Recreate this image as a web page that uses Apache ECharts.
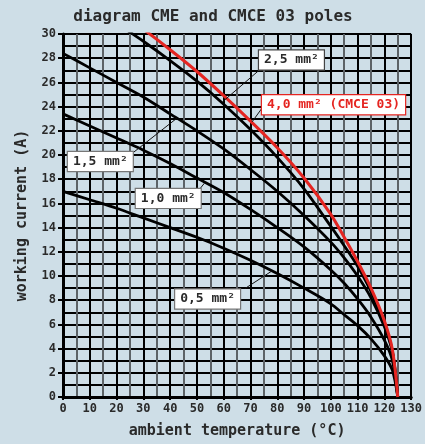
<!DOCTYPE html>
<html><head><meta charset="utf-8">
<script src="https://cdn.jsdelivr.net/npm/echarts@6/dist/echarts.min.js"></script>
<style>html,body{margin:0;padding:0;background:#cedee7;}#c{width:425px;height:444px;}</style>
</head><body><div id="c"></div>
<script>
// ambient temperature (°C) sample points
const temps   = [0, 10, 20, 30, 40, 50, 60, 70, 80, 90, 100, 105, 110, 115, 120, 123, 125];
// working current (A)
const cur05   = [17.0, 16.3, 15.6, 14.8, 14.0, 13.2, 12.3, 11.3, 10.2, 9.0, 7.7, 6.8, 5.9, 4.8, 3.4, 2.2, 0];
const cur10   = [23.4, 22.4, 21.4, 20.4, 19.3, 18.1, 16.9, 15.5, 14.0, 12.4, 10.5, 9.4, 8.1, 6.6, 4.7, 3.0, 0];
const cur15   = [28.4, 27.2, 26.0, 24.8, 23.4, 22.0, 20.5, 18.8, 17.0, 15.0, 12.8, 11.5, 10.0, 8.2, 5.8, 3.7, 0];
const cur25   = [33.8, 32.4, 30.9, 29.4, 27.8, 26.1, 24.2, 22.1, 19.8, 17.2, 14.1, 12.5, 10.8, 8.7, 6.0, 3.8, 0];
const cur40   = [34.9, 33.4, 32.0, 30.4, 28.7, 26.9, 24.9, 22.8, 20.6, 18.1, 15.1, 13.2, 11.2, 9.0, 6.3, 3.9, 0];
const seriesNames = ['0,5 mm²', '1,0 mm²', '1,5 mm²', '2,5 mm²', '4,0 mm² (CMCE 03)'];
const xTickLabels = [0, 10, 20, 30, 40, 50, 60, 70, 80, 90, 100, 110, 120, 130];
const yTickLabels = [0, 2, 4, 6, 8, 10, 12, 14, 16, 18, 20, 22, 24, 26, 28, 30];

const FONT = "'DejaVu Sans Mono', monospace";
const TXT = '#2a2a2a';
const RED = '#e52521';

// annotation anchors in data units: box top-left, leader start, leader end (on curve)
const notes = [
  {text: seriesNames[3], box: [73.2, 28.64], from: [73.2, 27.0], to: [59.6, 24.4], color: TXT, border: '#444'},
  {text: seriesNames[4], box: [74.3, 24.94], from: [74.3, 23.87], to: [70.6, 22.74], color: RED, border: RED},
  {text: seriesNames[2], box: [1.84, 20.25], from: [26.5, 20.25], to: [42.4, 23.02], color: TXT, border: '#777'},
  {text: seriesNames[1], box: [27.2, 17.2], from: [51.1, 17.2], to: [52.8, 17.67], color: TXT, border: '#777'},
  {text: seriesNames[0], box: [41.9, 8.89], from: [68.0, 8.97], to: [77.9, 10.4], color: TXT, border: '#777'}
];

function pairs(ys){ return temps.map((t,i)=>[t, ys[i]]); }
const allData = [cur05, cur10, cur15, cur25, cur40];

const chart = echarts.init(document.getElementById('c'), null, {renderer:'canvas'});
const option = {
  backgroundColor: '#cedee7',
  animation: false,
  title: {
    text: 'diagram CME and CMCE 03 poles',
    left: 208, top: 4, textAlign: 'center',
    textStyle: {fontFamily: FONT, fontWeight: 'bold', fontSize: 16, color: TXT}
  },
  grid: {left: 63, right: 8, top: 34, bottom: 46, containLabel: false},
  xAxis: {
    type: 'value', min: 0, max: 130, interval: 10,
    name: 'ambient temperature (°C)', nameLocation: 'middle', nameGap: 27,
    nameTextStyle: {fontFamily: FONT, fontWeight: 'bold', fontSize: 15, color: TXT},
    axisLine: {show: true, lineStyle: {color: '#000', width: 3}},
    axisTick: {show: true, length: 3, lineStyle: {color: '#000', width: 2}},
    axisLabel: {fontFamily: FONT, fontWeight: 'bold', fontSize: 12, color: TXT, margin: 6,
      formatter: v => xTickLabels.includes(v) ? String(v) : ''},
    splitLine: {show: true, lineStyle: {color: '#000', width: 2}},
    minorTick: {show: false, splitNumber: 2},
    minorSplitLine: {show: true, lineStyle: {color: '#5c6266', width: 2}}
  },
  yAxis: {
    type: 'value', min: 0, max: 30, interval: 2,
    name: 'working current (A)', nameLocation: 'middle', nameGap: 33,
    nameTextStyle: {fontFamily: FONT, fontWeight: 'bold', fontSize: 15, color: TXT},
    axisLine: {show: true, lineStyle: {color: '#000', width: 3}},
    axisTick: {show: true, length: 5, lineStyle: {color: '#000', width: 2}},
    axisLabel: {fontFamily: FONT, fontWeight: 'bold', fontSize: 12, color: TXT, margin: 7,
      formatter: v => yTickLabels.includes(v) ? String(v) : ''},
    splitLine: {show: true, lineStyle: {color: '#000', width: 2}},
    minorTick: {show: false, splitNumber: 2},
    minorSplitLine: {show: true, lineStyle: {color: '#000', width: 2}}
  },
  series: allData.map((d, i) => ({
    name: seriesNames[i], type: 'line', data: pairs(d), smooth: 0.3, symbol: 'none',
    clip: true, z: i === 4 ? 4 : 3,
    lineStyle: {color: i === 4 ? RED : '#000', width: i === 4 ? 3 : 2.8}
  }))
};
chart.setOption(option);

const gfx = [];
notes.forEach(n => {
  const b = chart.convertToPixel({gridIndex: 0}, n.box);
  const f = chart.convertToPixel({gridIndex: 0}, n.from);
  const t = chart.convertToPixel({gridIndex: 0}, n.to);
  gfx.push({type: 'line', shape: {x1: f[0], y1: f[1], x2: t[0], y2: t[1]},
    style: {stroke: '#111', lineWidth: 1}, z: 10});
  gfx.push({type: 'text', x: b[0], y: b[1], z: 11,
    style: {text: n.text, fill: n.color, font: "bold 13px 'DejaVu Sans Mono', monospace",
      align: 'left', verticalAlign: 'top', backgroundColor: '#fff',
      borderColor: n.border, borderWidth: 1.2, padding: [3, 5, 3, 5]}});
});
chart.setOption({graphic: gfx});
</script>
</body></html>
